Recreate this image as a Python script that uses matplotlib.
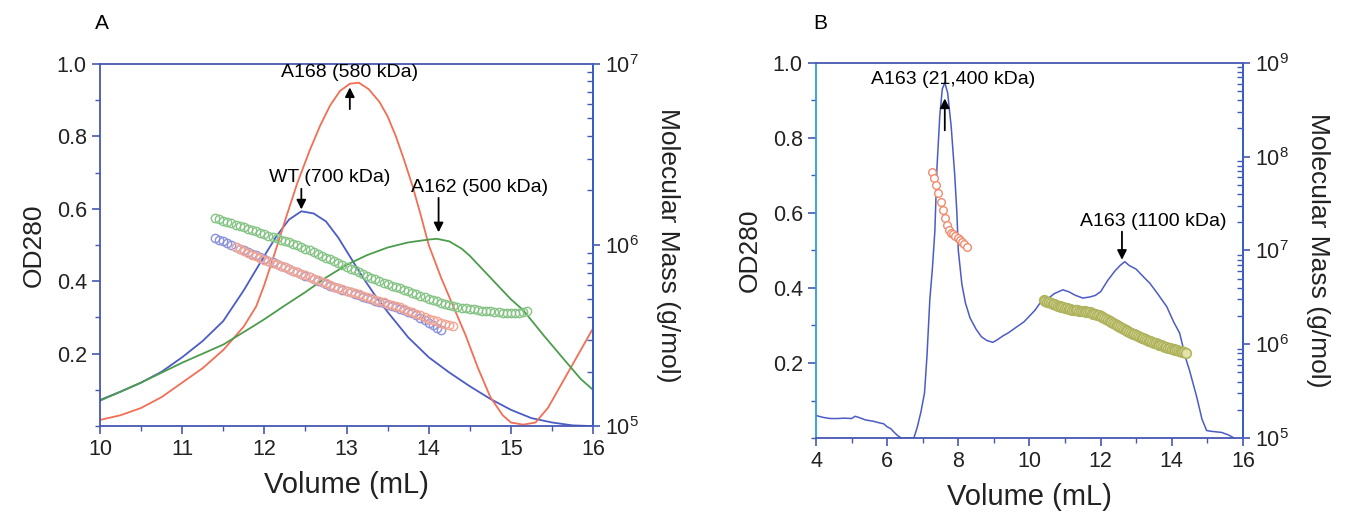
import matplotlib
matplotlib.use("Agg")
import matplotlib.pyplot as plt
import numpy as np
from matplotlib.ticker import MultipleLocator, LogLocator

plt.rcParams['font.family'] = ['Liberation Sans', 'DejaVu Sans']
plt.rcParams['mathtext.default'] = 'regular'

# ---------------- panel A data ----------------
# OD280 traces
a_wt_x = [10.0, 10.25, 10.5, 10.75, 11.0, 11.25, 11.5, 11.75, 12.0, 12.15, 12.3, 12.45,
          12.6, 12.75, 12.9, 13.05, 13.2, 13.35, 13.5, 13.75, 14.0, 14.25, 14.5, 14.75,
          15.0, 15.25, 15.5, 15.75, 16.0]
a_wt_od = [0.072, 0.095, 0.12, 0.15, 0.19, 0.235, 0.29, 0.375, 0.47, 0.525, 0.57, 0.593,
           0.587, 0.565, 0.52, 0.465, 0.41, 0.36, 0.315, 0.245, 0.19, 0.148, 0.11, 0.075,
           0.045, 0.022, 0.01, 0.002, 0.0]

a_168_x = [10.0, 10.25, 10.5, 10.75, 11.0, 11.25, 11.5, 11.75, 11.9, 12.0, 12.13, 12.27,
           12.4, 12.55, 12.68, 12.8, 12.92, 13.04, 13.15, 13.27, 13.4, 13.5, 13.6, 13.7,
           13.8, 13.9, 14.0, 14.15, 14.3, 14.45, 14.6, 14.75, 14.9, 15.0, 15.15, 15.3,
           15.45, 15.6, 15.75, 15.9, 16.0]
a_168_od = [0.017, 0.03, 0.05, 0.08, 0.12, 0.16, 0.21, 0.275, 0.33, 0.39, 0.48, 0.58,
            0.67, 0.76, 0.83, 0.885, 0.925, 0.945, 0.948, 0.93, 0.895, 0.855, 0.80, 0.735,
            0.665, 0.585, 0.50, 0.41, 0.33, 0.25, 0.16, 0.08, 0.03, 0.01, 0.004, 0.01,
            0.05, 0.11, 0.17, 0.23, 0.27]

a_162_x = [10.0, 10.5, 11.0, 11.5, 11.86, 12.0, 12.25, 12.5, 12.75, 13.0, 13.25, 13.5,
           13.75, 14.0, 14.1, 14.25, 14.4, 14.5, 14.75, 15.0, 15.15, 15.4, 15.68, 15.85,
           16.0]
a_162_od = [0.07, 0.12, 0.175, 0.225, 0.275, 0.295, 0.333, 0.37, 0.41, 0.445, 0.472,
            0.493, 0.507, 0.515, 0.517, 0.51, 0.49, 0.47, 0.41, 0.35, 0.32, 0.25, 0.175,
            0.13, 0.10]

# molar mass traces, log10(g/mol)
a_162_mx = [11.40, 11.45, 11.50, 11.55, 11.60, 11.65, 11.70, 11.75, 11.80, 11.85, 11.90,
            11.95, 12.00, 12.05, 12.10, 12.15, 12.20, 12.25, 12.30, 12.35, 12.40, 12.45,
            12.50, 12.55, 12.60, 12.65, 12.70, 12.75, 12.80, 12.85, 12.90, 12.95, 13.00,
            13.05, 13.10, 13.15, 13.20, 13.25, 13.30, 13.35, 13.40, 13.45, 13.50, 13.55,
            13.60, 13.65, 13.70, 13.75, 13.80, 13.85, 13.90, 13.95, 14.00, 14.05, 14.10,
            14.15, 14.20, 14.25, 14.30, 14.35, 14.40, 14.45, 14.50, 14.55, 14.60, 14.65,
            14.70, 14.75, 14.80, 14.85, 14.90, 14.95, 15.00, 15.05, 15.10, 15.15, 15.20]
a_162_logm = [6.150, 6.142, 6.135, 6.127, 6.120, 6.112, 6.105, 6.097, 6.090, 6.082, 6.075,
              6.067, 6.060, 6.052, 6.045, 6.037, 6.030, 6.022, 6.015, 6.007, 6.000, 5.990,
              5.980, 5.970, 5.960, 5.950, 5.940, 5.930, 5.920, 5.910, 5.900, 5.890, 5.880,
              5.870, 5.860, 5.850, 5.840, 5.830, 5.820, 5.810, 5.800, 5.792, 5.784, 5.776,
              5.768, 5.760, 5.752, 5.744, 5.736, 5.728, 5.720, 5.712, 5.704, 5.696, 5.688,
              5.680, 5.672, 5.667, 5.662, 5.658, 5.654, 5.650, 5.647, 5.644, 5.641, 5.638,
              5.635, 5.633, 5.631, 5.629, 5.627, 5.626, 5.625, 5.625, 5.626, 5.629, 5.635]

a_wt_mx = [11.40, 11.45, 11.50, 11.55, 11.60, 11.65, 11.70, 11.75, 11.80, 11.85, 11.90,
           11.95, 12.00, 12.05, 12.10, 12.15, 12.20, 12.25, 12.30, 12.35, 12.40, 12.45,
           12.50, 12.55, 12.60, 12.65, 12.70, 12.75, 12.80, 12.85, 12.90, 12.95, 13.00,
           13.05, 13.10, 13.15, 13.20, 13.25, 13.30, 13.35, 13.40, 13.45, 13.50, 13.55,
           13.60, 13.65, 13.70, 13.75, 13.80, 13.85, 13.90, 13.95, 14.00, 14.05, 14.10,
           14.15]
a_wt_logm = [6.040, 6.030, 6.020, 6.010, 6.000, 5.990, 5.980, 5.970, 5.960, 5.951, 5.942,
             5.932, 5.923, 5.914, 5.905, 5.896, 5.886, 5.877, 5.868, 5.858, 5.849, 5.840,
             5.831, 5.821, 5.812, 5.803, 5.794, 5.784, 5.775, 5.768, 5.760, 5.752, 5.745,
             5.738, 5.730, 5.722, 5.715, 5.708, 5.700, 5.692, 5.685, 5.678, 5.670, 5.662,
             5.655, 5.648, 5.640, 5.632, 5.625, 5.612, 5.598, 5.585, 5.571, 5.558, 5.544,
             5.530]

a_168_mx = [11.65, 11.70, 11.75, 11.80, 11.85, 11.90, 11.95, 12.00, 12.05, 12.10, 12.15,
            12.20, 12.25, 12.30, 12.35, 12.40, 12.45, 12.50, 12.55, 12.60, 12.65, 12.70,
            12.75, 12.80, 12.85, 12.90, 12.95, 13.00, 13.05, 13.10, 13.15, 13.20, 13.25,
            13.30, 13.35, 13.40, 13.45, 13.50, 13.55, 13.60, 13.65, 13.70, 13.75, 13.80,
            13.85, 13.90, 13.95, 14.00, 14.05, 14.10, 14.15, 14.20, 14.25, 14.30]
a_168_logm = [5.990, 5.978, 5.967, 5.955, 5.946, 5.937, 5.928, 5.919, 5.911, 5.902, 5.893,
              5.884, 5.876, 5.867, 5.858, 5.849, 5.841, 5.832, 5.823, 5.814, 5.805, 5.796,
              5.788, 5.779, 5.770, 5.763, 5.756, 5.748, 5.741, 5.734, 5.727, 5.720, 5.712,
              5.705, 5.698, 5.691, 5.684, 5.676, 5.669, 5.662, 5.655, 5.646, 5.638, 5.629,
              5.620, 5.611, 5.602, 5.594, 5.585, 5.578, 5.571, 5.564, 5.557, 5.550]

# ---------------- panel B data ----------------
b_x = [4.0, 4.2, 4.4, 4.6, 4.8, 5.0, 5.1, 5.2, 5.4, 5.6, 5.8, 5.9, 6.0, 6.1, 6.2, 6.3,
       6.4, 6.6, 6.75, 6.85, 6.95, 7.05, 7.12, 7.2, 7.27, 7.34, 7.4, 7.48, 7.55, 7.62,
       7.7, 7.8, 7.9, 7.96, 8.0, 8.1, 8.2, 8.33, 8.5, 8.65, 8.8, 8.97, 9.1, 9.25, 9.4,
       9.55, 9.7, 9.85, 10.0, 10.15, 10.3, 10.5, 10.7, 10.94, 11.1, 11.3, 11.5, 11.7,
       11.85, 12.0, 12.2, 12.4, 12.55, 12.68, 12.8, 13.0, 13.2, 13.38, 13.6, 13.86,
       14.05, 14.22, 14.4, 14.5, 14.7, 14.85, 14.98, 15.1, 15.4, 15.6, 15.75]
b_od = [0.060, 0.055, 0.052, 0.052, 0.053, 0.052, 0.058, 0.055, 0.048, 0.045, 0.040,
        0.038, 0.030, 0.025, 0.015, 0.006, 0.0, 0.0, 0.0, 0.03, 0.07, 0.12, 0.22, 0.37,
        0.45, 0.55, 0.72, 0.86, 0.93, 0.947, 0.92, 0.83, 0.70, 0.60, 0.50, 0.41, 0.36,
        0.32, 0.29, 0.27, 0.26, 0.255, 0.262, 0.272, 0.28, 0.29, 0.30, 0.31, 0.325, 0.34,
        0.36, 0.37, 0.385, 0.395, 0.39, 0.38, 0.373, 0.376, 0.38, 0.39, 0.42, 0.445, 0.46,
        0.47, 0.46, 0.45, 0.43, 0.413, 0.385, 0.35, 0.31, 0.28, 0.21, 0.18, 0.11, 0.05,
        0.02, 0.018, 0.015, 0.008, 0.0]

b_peak1_mx = [7.26, 7.32, 7.38, 7.44, 7.50, 7.56, 7.62, 7.68, 7.74, 7.80, 7.86, 7.92,
              7.98, 8.04, 8.10, 8.16, 8.24]
b_peak1_logm = [7.84, 7.77, 7.70, 7.61, 7.52, 7.43, 7.35, 7.27, 7.22, 7.19, 7.17, 7.15,
                7.13, 7.11, 7.09, 7.07, 7.04]

b_peak2_mx = [10.40, 10.45, 10.50, 10.55, 10.60, 10.65, 10.70, 10.75, 10.80, 10.85, 10.90,
              10.95, 11.00, 11.05, 11.10, 11.15, 11.20, 11.25, 11.30, 11.35, 11.40, 11.45,
              11.50, 11.55, 11.60, 11.65, 11.70, 11.75, 11.80, 11.85, 11.90, 11.95, 12.00,
              12.05, 12.10, 12.15, 12.20, 12.25, 12.30, 12.35, 12.40, 12.45, 12.50, 12.55,
              12.60, 12.65, 12.70, 12.75, 12.80, 12.85, 12.90, 12.95, 13.00, 13.05, 13.10,
              13.15, 13.20, 13.25, 13.30, 13.35, 13.40, 13.45, 13.50, 13.55, 13.60, 13.65,
              13.70, 13.75, 13.80, 13.85, 13.90, 13.95, 14.00, 14.05, 14.10, 14.15, 14.20,
              14.25, 14.30, 14.35, 14.40]
b_peak2_logm = [6.470, 6.462, 6.455, 6.447, 6.440, 6.432, 6.425, 6.417, 6.410, 6.405, 6.400,
                6.395, 6.390, 6.385, 6.380, 6.375, 6.370, 6.367, 6.364, 6.361, 6.358, 6.355,
                6.352, 6.349, 6.346, 6.343, 6.340, 6.333, 6.327, 6.320, 6.313, 6.307, 6.300,
                6.290, 6.280, 6.270, 6.260, 6.249, 6.237, 6.226, 6.215, 6.204, 6.192, 6.181,
                6.170, 6.161, 6.151, 6.142, 6.132, 6.123, 6.114, 6.104, 6.095, 6.087, 6.079,
                6.071, 6.063, 6.054, 6.046, 6.038, 6.030, 6.023, 6.016, 6.009, 6.002, 5.996,
                5.989, 5.982, 5.975, 5.969, 5.962, 5.956, 5.950, 5.945, 5.940, 5.935, 5.930,
                5.925, 5.920, 5.915, 5.910]

# colours
spine_c = '#4657b0'
blue = '#4b5cc4'
red = '#f26e55'
green = '#4c9c4c'

fig = plt.figure(figsize=(13.51, 5.19), dpi=100)


def style_axes(ax, ax2, left_color):
    for s in ['top', 'bottom']:
        ax.spines[s].set_color(spine_c)
    ax.spines['left'].set_color(left_color)
    ax2.spines['right'].set_color('#3a66d6')
    for s in ['top', 'bottom', 'left']:
        ax2.spines[s].set_visible(False)
    for a in (ax, ax2):
        for sp in a.spines.values():
            sp.set_linewidth(1.3)
    ax.tick_params(which='both', direction='out', colors=spine_c, labelcolor='#222222',
                   labelsize=15.5)
    ax.tick_params(which='major', length=6, width=1.2)
    ax.tick_params(which='minor', length=3.5, width=1.0)
    ax2.tick_params(which='both', colors=spine_c, labelcolor='#222222', labelsize=15.5)
    ax2.tick_params(which='major', direction='out', length=5, width=1.2)
    ax2.tick_params(which='minor', direction='in', length=4, width=1.0)
    ax.set_ylim(0, 1.0)
    ax.yaxis.set_minor_locator(MultipleLocator(0.1))
    ax.set_yticks([0.2, 0.4, 0.6, 0.8, 1.0])
    ax.set_yticklabels(['0.2', '0.4', '0.6', '0.8', '1.0'])
    ax.set_xlabel('Volume (mL)', fontsize=21, color='#222222', labelpad=8)
    ax.set_ylabel('OD280', fontsize=19, color='#222222', labelpad=8)
    ax2.set_yscale('log')
    ax2.yaxis.set_minor_locator(LogLocator(base=10, subs=np.arange(2, 10)))
    ax2.set_ylabel('Molecular Mass (g/mol)', fontsize=19, color='#222222',
                   rotation=270, labelpad=30)


def arrow(ax, x, y0, y1):
    ax.annotate('', xy=(x, y1), xytext=(x, y0),
                arrowprops=dict(arrowstyle='-|>', color='black', lw=1.3,
                                mutation_scale=14, shrinkA=0, shrinkB=0))


# ---------------- panel A ----------------
ax = fig.add_axes([0.074, 0.179, 0.365, 0.698])
ax2 = ax.twinx()
ax.plot(a_wt_x, a_wt_od, color=blue, lw=1.3)
ax.plot(a_168_x, a_168_od, color=red, lw=1.3)
ax.plot(a_162_x, a_162_od, color=green, lw=1.3)
mk = dict(ls='none', marker='o', ms=6, mfc='none', mew=1.0)
ax2.plot(a_162_mx, 10 ** np.array(a_162_logm), mec='#86c486', **mk)
ax2.plot(a_wt_mx, 10 ** np.array(a_wt_logm), mec='#8a92dc', **mk)
ax2.plot(a_168_mx, 10 ** np.array(a_168_logm), mec='#f4a592', **mk)
ax.set_xlim(10, 16)
ax.xaxis.set_major_locator(MultipleLocator(1))
ax.xaxis.set_minor_locator(MultipleLocator(0.5))
ax2.set_ylim(1e5, 1e7)
style_axes(ax, ax2, spine_c)

ax.text(13.04, 0.975, 'A168 (580 kDa)', ha='center', va='center', fontsize=14)
arrow(ax, 13.04, 0.875, 0.935)
ax.text(12.8, 0.685, 'WT (700 kDa)', ha='center', va='center', fontsize=14)
arrow(ax, 12.45, 0.655, 0.598)
ax.text(14.62, 0.66, 'A162 (500 kDa)', ha='center', va='center', fontsize=14)
arrow(ax, 14.12, 0.63, 0.535)
fig.text(0.070, 0.955, 'A', fontsize=15, ha='left', va='center')

# ---------------- panel B ----------------
bx = fig.add_axes([0.604, 0.156, 0.316, 0.723])
bx2 = bx.twinx()
bx.plot(b_x, b_od, color=blue, lw=1.1)
bx2.plot(b_peak1_mx, 10 ** np.array(b_peak1_logm), ls='none', marker='o', ms=5.5,
         mfc='white', mec='#f28a6c', mew=1.0)
bx2.plot(b_peak2_mx, 10 ** np.array(b_peak2_logm), ls='none', marker='o', ms=7,
         mfc='#e2e3a8', mec='#b0b35e', mew=1.1)
bx.set_xlim(4, 16)
bx.xaxis.set_major_locator(MultipleLocator(2))
bx.xaxis.set_minor_locator(MultipleLocator(1))
bx2.set_ylim(1e5, 1e9)
style_axes(bx, bx2, '#2a9fd6')

bx.text(7.85, 0.955, 'A163 (21,400 kDa)', ha='center', va='center', fontsize=14)
arrow(bx, 7.62, 0.82, 0.905)
bx.text(13.47, 0.577, 'A163 (1100 kDa)', ha='center', va='center', fontsize=14)
arrow(bx, 12.6, 0.55, 0.475)
fig.text(0.602, 0.955, 'B', fontsize=15, ha='left', va='center')

fig.savefig('out.png', dpi=100)
